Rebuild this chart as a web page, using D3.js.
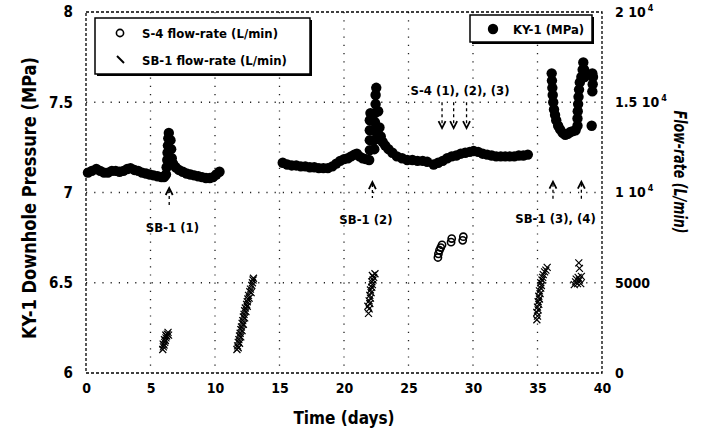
<!DOCTYPE html>
<html>
<head>
<meta charset="utf-8">
<script src="https://cdn.jsdelivr.net/npm/d3@7"></script>
<style>
  body { margin: 0; background: #fff; }
  svg text { font-family: "DejaVu Sans Condensed", "DejaVu Sans", sans-serif; font-weight: bold; fill: #000; }
</style>
</head>
<body>
<svg id="chart" width="704" height="438"></svg>
<script>
// tick values and labels
const dayTicks = [0, 5, 10, 15, 20, 25, 30, 35, 40];
const pressureTicks = [6, 6.5, 7, 7.5, 8];
const pressureTickLabels = ["6", "6.5", "7", "7.5", "8"];
const flowTicks = [0, 5000, 10000, 15000, 20000];
const flowTickBase = ["0", "5000", "1 10", "1.5 10", "2 10"];
const flowTickSup = ["", "", "4", "4", "4"];

// KY-1 downhole pressure (day, MPa), three recording periods
const ky1Period1 = [
  [0.15, 7.11], [0.45, 7.12], [0.8, 7.13], [1.1, 7.12], [1.4, 7.11], [1.7, 7.11],
  [2.0, 7.12], [2.3, 7.12], [2.6, 7.115], [2.9, 7.12], [3.2, 7.13], [3.45, 7.135],
  [3.75, 7.125], [4.05, 7.12], [4.35, 7.11], [4.65, 7.105], [4.95, 7.1], [5.25, 7.095],
  [5.55, 7.09], [5.85, 7.085], [6.05, 7.085], [6.2, 7.1], [6.25, 7.14], [6.3, 7.18],
  [6.32, 7.22], [6.35, 7.26], [6.38, 7.3], [6.42, 7.33], [6.55, 7.29], [6.6, 7.24],
  [6.65, 7.19], [6.75, 7.16], [6.95, 7.14], [7.2, 7.125], [7.5, 7.115], [7.8, 7.105],
  [8.1, 7.1], [8.4, 7.095], [8.7, 7.09], [9.0, 7.085], [9.3, 7.08], [9.6, 7.08],
  [9.85, 7.085], [10.1, 7.1], [10.35, 7.115]
];
const ky1Period2 = [
  [15.25, 7.165], [15.6, 7.155], [15.95, 7.15], [16.3, 7.15], [16.65, 7.145], [17.0, 7.145],
  [17.35, 7.14], [17.7, 7.14], [18.05, 7.135], [18.4, 7.135], [18.75, 7.135], [19.1, 7.145],
  [19.4, 7.16], [19.7, 7.175], [20.0, 7.185], [20.3, 7.19], [20.55, 7.2], [20.8, 7.21],
  [21.0, 7.215], [21.2, 7.2], [21.45, 7.19], [21.7, 7.185], [21.95, 7.18], [22.0, 7.235],
  [22.0, 7.29], [22.0, 7.345], [22.0, 7.4], [22.05, 7.44], [22.35, 7.24], [22.35, 7.29],
  [22.4, 7.34], [22.4, 7.39], [22.4, 7.44], [22.45, 7.49], [22.45, 7.54], [22.5, 7.58],
  [22.65, 7.45], [22.75, 7.36], [22.85, 7.31], [23.0, 7.28], [23.2, 7.26], [23.45, 7.24],
  [23.75, 7.22], [24.1, 7.2], [24.5, 7.19], [24.9, 7.18], [25.3, 7.18], [25.7, 7.175],
  [26.1, 7.175], [26.45, 7.17], [26.95, 7.155], [27.3, 7.165], [27.65, 7.175], [28.0, 7.19],
  [28.35, 7.2], [28.7, 7.205], [29.05, 7.215], [29.4, 7.22], [29.75, 7.225], [30.05, 7.23],
  [30.4, 7.225], [30.75, 7.215], [31.1, 7.21], [31.45, 7.205], [31.8, 7.2], [32.15, 7.2],
  [32.5, 7.2], [32.85, 7.2], [33.2, 7.2], [33.55, 7.205], [33.9, 7.205], [34.25, 7.21]
];
const ky1Period3 = [
  [36.1, 7.66], [36.12, 7.62], [36.15, 7.58], [36.18, 7.54], [36.22, 7.5], [36.28, 7.46],
  [36.36, 7.43], [36.45, 7.4], [36.6, 7.37], [36.75, 7.35], [36.95, 7.33], [37.15, 7.32],
  [37.35, 7.325], [37.55, 7.335], [37.75, 7.34], [37.95, 7.345], [38.1, 7.37], [38.1, 7.41],
  [38.12, 7.45], [38.15, 7.49], [38.18, 7.53], [38.22, 7.57], [38.28, 7.61], [38.4, 7.64],
  [38.5, 7.68], [38.55, 7.72], [38.62, 7.68], [38.65, 7.64], [39.25, 7.56], [39.28, 7.6],
  [39.3, 7.64], [39.25, 7.66], [39.2, 7.37]
];

// S-4 flow-rate (day, L/min)
const s4Flow = [
  [27.28, 6400], [27.32, 6600], [27.4, 6800], [27.5, 6950], [27.6, 7100],
  [28.3, 7250], [28.35, 7450], [29.2, 7350], [29.25, 7550]
];

// SB-1 flow-rate (day, L/min), one cluster per test
const sb1Test1 = [
  [5.95, 1300], [6.0, 1450], [5.98, 1600], [6.05, 1550], [6.1, 1700], [6.08, 1850],
  [6.15, 1800], [6.2, 1950], [6.18, 2100], [6.25, 2050], [6.3, 2150], [6.36, 2250], [6.4, 2100]
];
const sb1Test2 = [
  [11.7, 1300], [11.75, 1500], [11.8, 1400], [11.8, 1700], [11.85, 1850], [11.9, 1650],
  [11.9, 2050], [11.95, 2200], [12.0, 2000], [12.0, 2400], [12.05, 2550], [12.1, 2350],
  [12.1, 2750], [12.15, 2900], [12.2, 2700], [12.2, 3100], [12.25, 3250], [12.3, 3050],
  [12.3, 3450], [12.35, 3600], [12.4, 3400], [12.45, 3800], [12.5, 3950], [12.5, 3700],
  [12.55, 4100], [12.6, 4300], [12.65, 4150], [12.7, 4500], [12.75, 4650], [12.8, 4450],
  [12.85, 4850], [12.9, 5000], [12.95, 5150], [12.98, 5250]
];
const sb1Test3 = [
  [21.9, 3300], [21.95, 3550], [21.85, 3700], [22.0, 3850], [21.95, 4000], [22.05, 4150],
  [22.0, 4300], [22.1, 4450], [22.05, 4600], [22.15, 4750], [22.2, 4900], [22.15, 5050],
  [22.25, 5150], [22.3, 5300], [22.4, 5500], [22.2, 5400]
];
const sb1Test4 = [
  [34.95, 2950], [35.0, 3150], [34.95, 3350], [35.05, 3500], [35.0, 3650], [35.1, 3800],
  [35.05, 3950], [35.15, 4100], [35.1, 4250], [35.2, 4400], [35.15, 4550], [35.25, 4700],
  [35.3, 4850], [35.25, 5000], [35.35, 5150], [35.4, 5300], [35.45, 5450], [35.55, 5600],
  [35.65, 5700], [35.75, 5850]
];
const sb1Test5 = [
  [37.85, 4900], [37.95, 5050], [38.0, 5200], [38.1, 4950], [38.15, 5300],
  [38.25, 5150], [38.35, 4950], [38.4, 5350], [38.25, 5800], [38.2, 6100]
];

// annotations: label text and arrow positions (day, MPa)
const sbLabels = [
  { text: "SB-1 (1)", day: 6.7, p: 6.78 },
  { text: "SB-1 (2)", day: 21.7, p: 6.825 },
  { text: "SB-1 (3), (4)", day: 36.4, p: 6.83 }
];
const sbArrows = [
  { day: 6.45, tip: 7.025, end: 6.93 },
  { day: 22.2, tip: 7.058, end: 6.97 },
  { day: 36.2, tip: 7.06, end: 6.96 },
  { day: 38.4, tip: 7.06, end: 6.96 }
];
const s4Label = { text: "S-4 (1), (2), (3)", day: 29.0, p: 7.54 };
const s4Arrows = [
  { day: 27.6, tip: 7.357, start: 7.5 },
  { day: 28.5, tip: 7.357, start: 7.5 },
  { day: 29.5, tip: 7.357, start: 7.5 }
];

const chart = { left: 86, right: 602, top: 12, bottom: 373 };

const x = d3.scaleLinear().domain([0, 40]).range([chart.left, chart.right]);
const yP = d3.scaleLinear().domain([6, 8]).range([chart.bottom, chart.top]);
const yF = d3.scaleLinear().domain([0, 20000]).range([chart.bottom, chart.top]);

const svg = d3.select("#chart");

// dotted grid
svg.append("g")
  .selectAll("line")
  .data(dayTicks.slice(1, -1))
  .join("line")
  .attr("x1", d => x(d)).attr("x2", d => x(d))
  .attr("y1", chart.top).attr("y2", chart.bottom)
  .attr("stroke", "#222").attr("stroke-width", 1.3)
  .attr("stroke-dasharray", "1.2,7");

svg.append("g")
  .selectAll("line")
  .data(pressureTicks.slice(1, -1))
  .join("line")
  .attr("x1", chart.left).attr("x2", chart.right)
  .attr("y1", d => yP(d)).attr("y2", d => yP(d))
  .attr("stroke", "#222").attr("stroke-width", 1.3)
  .attr("stroke-dasharray", "1.2,7");

// frame
svg.append("rect")
  .attr("x", chart.left).attr("y", chart.top)
  .attr("width", chart.right - chart.left)
  .attr("height", chart.bottom - chart.top)
  .attr("fill", "none")
  .attr("stroke", "#000").attr("stroke-width", 1.3)
  .attr("stroke-dasharray", "3,2");

// axes
let xAxis = g => g
  .attr("transform", `translate(0,${chart.bottom})`)
  .call(d3.axisBottom(x).tickValues(dayTicks).tickSize(0).tickPadding(10))
  .call(g => g.select(".domain").remove())
  .attr("font-size", 14);

let yAxisLeft = g => g
  .attr("transform", `translate(${chart.left},0)`)
  .call(d3.axisLeft(yP).tickValues(pressureTicks).tickSize(0).tickPadding(13)
    .tickFormat((d, i) => pressureTickLabels[i]))
  .call(g => g.select(".domain").remove())
  .attr("font-size", 15);

let yAxisRight = g => g
  .attr("transform", `translate(${chart.right},0)`)
  .call(d3.axisRight(yF).tickValues(flowTicks).tickSize(0).tickPadding(13))
  .call(g => g.select(".domain").remove())
  .attr("font-size", 14);

svg.append("g").call(xAxis);
svg.append("g").call(yAxisLeft);
const rightAxis = svg.append("g").call(yAxisRight);

rightAxis.selectAll(".tick text").each(function (d, i) {
  const t = d3.select(this).text(null);
  t.append("tspan").text(flowTickBase[i]);
  if (flowTickSup[i]) {
    t.append("tspan").attr("dx", 2).attr("dy", -6).attr("font-size", 9).text(flowTickSup[i]);
  }
});

// axis titles
svg.append("text")
  .attr("transform", "translate(36,198) rotate(-90)")
  .attr("text-anchor", "middle")
  .attr("font-size", 20)
  .attr("textLength", 282)
  .attr("lengthAdjust", "spacingAndGlyphs")
  .text("KY-1 Downhole Pressure (MPa)");

svg.append("text")
  .attr("transform", "translate(674,172) rotate(90)")
  .attr("text-anchor", "middle")
  .attr("font-size", 18)
  .attr("font-style", "italic")
  .attr("textLength", 123)
  .attr("lengthAdjust", "spacingAndGlyphs")
  .text("Flow-rate (L/min)");

svg.append("text")
  .attr("x", (chart.left + chart.right) / 2)
  .attr("y", 424)
  .attr("text-anchor", "middle")
  .attr("font-size", 17)
  .text("Time (days)");

// KY-1 pressure
const ky1 = [ky1Period1, ky1Period2, ky1Period3].flat();
svg.append("g")
  .selectAll("circle")
  .data(ky1)
  .join("circle")
  .attr("cx", d => x(d[0]))
  .attr("cy", d => yP(d[1]))
  .attr("r", 5.2)
  .attr("fill", "#000");

// S-4 flow-rate
svg.append("g")
  .selectAll("circle")
  .data(s4Flow)
  .join("circle")
  .attr("cx", d => x(d[0]))
  .attr("cy", d => yF(d[1]))
  .attr("r", 3.6)
  .attr("fill", "none")
  .attr("stroke", "#000")
  .attr("stroke-width", 1.6);

// SB-1 flow-rate
const crossPath = "M-3.5,-3.5L3.5,3.5M-3.5,3.5L3.5,-3.5";
const sb1 = [sb1Test1, sb1Test2, sb1Test3, sb1Test4, sb1Test5].flat();
svg.append("g")
  .selectAll("path")
  .data(sb1)
  .join("path")
  .attr("transform", d => `translate(${x(d[0])},${yF(d[1])})`)
  .attr("d", crossPath)
  .attr("fill", "none")
  .attr("stroke", "#000")
  .attr("stroke-width", 1.2);

// annotations
svg.append("g")
  .selectAll("text")
  .data(sbLabels)
  .join("text")
  .attr("x", d => x(d.day))
  .attr("y", d => yP(d.p))
  .attr("text-anchor", "middle")
  .attr("font-size", 13)
  .text(d => d.text);

svg.append("text")
  .attr("x", x(s4Label.day))
  .attr("y", yP(s4Label.p))
  .attr("text-anchor", "middle")
  .attr("font-size", 13)
  .text(s4Label.text);

const upArrows = svg.append("g").selectAll("g").data(sbArrows).join("g");
upArrows.append("path")
  .attr("d", d => `M${x(d.day) - 3.5},${yP(d.tip) + 7}L${x(d.day)},${yP(d.tip)}L${x(d.day) + 3.5},${yP(d.tip) + 7}`)
  .attr("fill", "none").attr("stroke", "#000").attr("stroke-width", 1.8);
upArrows.append("line")
  .attr("x1", d => x(d.day)).attr("x2", d => x(d.day))
  .attr("y1", d => yP(d.tip) + 2).attr("y2", d => yP(d.end))
  .attr("stroke", "#000").attr("stroke-width", 1.3)
  .attr("stroke-dasharray", "3,3");

const downArrows = svg.append("g").selectAll("g").data(s4Arrows).join("g");
downArrows.append("path")
  .attr("d", d => `M${x(d.day) - 3.5},${yP(d.tip) - 7}L${x(d.day)},${yP(d.tip)}L${x(d.day) + 3.5},${yP(d.tip) - 7}`)
  .attr("fill", "none").attr("stroke", "#000").attr("stroke-width", 1.8);
downArrows.append("line")
  .attr("x1", d => x(d.day)).attr("x2", d => x(d.day))
  .attr("y1", d => yP(d.start)).attr("y2", d => yP(d.tip) - 2)
  .attr("stroke", "#000").attr("stroke-width", 1.3)
  .attr("stroke-dasharray", "3,3");

// legends
function legendBox(x0, y0, w, h) {
  svg.append("rect")
    .attr("x", x0 + 2).attr("y", y0 + 2).attr("width", w).attr("height", h)
    .attr("fill", "#000");
  svg.append("rect")
    .attr("x", x0).attr("y", y0).attr("width", w).attr("height", h)
    .attr("fill", "#fff").attr("stroke", "#000").attr("stroke-width", 1.5);
}

legendBox(95, 18, 215, 56);
svg.append("circle")
  .attr("cx", 120).attr("cy", 33).attr("r", 3.6)
  .attr("fill", "none").attr("stroke", "#000").attr("stroke-width", 1.6);
svg.append("line")
  .attr("x1", 117).attr("y1", 56).attr("x2", 124).attr("y2", 63)
  .attr("stroke", "#000").attr("stroke-width", 2);
svg.append("text").attr("x", 142).attr("y", 38).attr("font-size", 13).text("S-4 flow-rate (L/min)");
svg.append("text").attr("x", 142).attr("y", 65).attr("font-size", 13).text("SB-1 flow-rate (L/min)");

legendBox(470, 15, 122, 27);
svg.append("circle")
  .attr("cx", 493).attr("cy", 29).attr("r", 5.2).attr("fill", "#000");
svg.append("text").attr("x", 513).attr("y", 34).attr("font-size", 13).text("KY-1 (MPa)");
</script>
</body>
</html>
